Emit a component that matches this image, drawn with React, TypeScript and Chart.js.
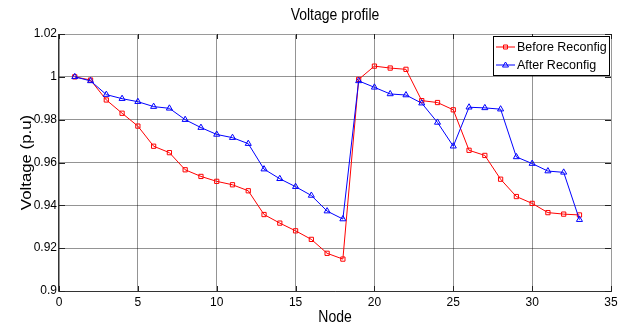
import React, { useEffect, useRef } from 'react';
import { Chart, registerables } from 'chart.js';

Chart.register(...registerables);

const nodes = [1, 2, 3, 4, 5, 6, 7, 8, 9, 10, 11, 12, 13, 14, 15, 16, 17, 18, 19, 20, 21, 22, 23, 24, 25, 26, 27, 28, 29, 30, 31, 32, 33];
const beforeReconfig = [1.0, 0.9985, 0.9892, 0.983, 0.977, 0.9676, 0.9646, 0.9566, 0.9535, 0.9512, 0.9496, 0.9468, 0.9357, 0.9317, 0.9281, 0.9241, 0.9176, 0.9149, 0.9988, 1.005, 1.0041, 1.0035, 0.9889, 0.988, 0.9846, 0.9657, 0.9633, 0.9522, 0.9441, 0.9409, 0.9366, 0.9359, 0.9355];
const afterReconfig = [1.0, 0.9981, 0.9917, 0.9898, 0.9884, 0.9861, 0.9853, 0.98, 0.9763, 0.9731, 0.9716, 0.9688, 0.9569, 0.9524, 0.9487, 0.9446, 0.9373, 0.9336, 0.9981, 0.9951, 0.992, 0.9915, 0.9877, 0.9787, 0.9676, 0.9858, 0.9855, 0.9849, 0.9626, 0.9595, 0.956, 0.9554, 0.9333];
const xTickValues = [0, 5, 10, 15, 20, 25, 30, 35];
const yTickValues = [0.9, 0.92, 0.94, 0.96, 0.98, 1.0, 1.02];
const chartTitle = 'Voltage profile';
const xTitle = 'Node';
const yTitle = 'Voltage (p.u)';
const seriesLabels = ['Before Reconfig', 'After Reconfig'];
const seriesColors = ['rgb(255,0,0)', 'rgb(0,0,255)'];

const FONT = '"Liberation Sans", Arial, sans-serif';

const decorPlugin = {
  id: 'matlabDecor',
  afterDraw(chart: any) {
    const { ctx, chartArea } = chart;
    const { left, right, top, bottom } = chartArea;
    const xs = chart.scales.x;
    const ys = chart.scales.y;
    ctx.save();

    // box border
    ctx.lineWidth = 1;
    ctx.strokeStyle = '#9a9a9a';
    ctx.beginPath();
    ctx.moveTo(left, top + 0.5);
    ctx.lineTo(right, top + 0.5);
    ctx.moveTo(right + 0.5, top);
    ctx.lineTo(right + 0.5, bottom);
    ctx.stroke();
    ctx.strokeStyle = '#333';
    ctx.beginPath();
    ctx.moveTo(left - 0.5, top);
    ctx.lineTo(left - 0.5, bottom + 0.5);
    ctx.lineTo(right + 1, bottom + 0.5);
    ctx.stroke();

    // inward ticks
    ctx.strokeStyle = '#222';
    ctx.beginPath();
    xTickValues.forEach((v) => {
      const px = Math.round(xs.getPixelForValue(v)) + 0.5;
      ctx.moveTo(px, bottom);
      ctx.lineTo(px, bottom - 5);
      ctx.moveTo(px, top);
      ctx.lineTo(px, top + 5);
    });
    yTickValues.forEach((v) => {
      const py = Math.round(ys.getPixelForValue(v)) + 0.5;
      ctx.moveTo(left, py);
      ctx.lineTo(left + 6, py);
      ctx.moveTo(right, py);
      ctx.lineTo(right - 6, py);
    });
    ctx.stroke();

    // title
    ctx.fillStyle = '#000';
    ctx.textAlign = 'center';
    ctx.textBaseline = 'alphabetic';
    ctx.font = `14px ${FONT}`;
    ctx.save();
    ctx.translate((left + right) / 2, top - 14);
    ctx.scale(1, 1.15);
    ctx.fillText(chartTitle, 0, 0);
    ctx.restore();

    // x title
    ctx.save();
    ctx.translate((left + right) / 2, bottom + 31);
    ctx.scale(1, 1.15);
    ctx.fillText(xTitle, 0, 0);
    ctx.restore();

    // y title
    ctx.save();
    ctx.translate(left - 32, (top + bottom) / 2);
    ctx.rotate(-Math.PI / 2);
    ctx.scale(1.2, 1);
    ctx.textBaseline = 'middle';
    ctx.fillText(yTitle, 0, 0);
    ctx.restore();

    // legend
    const bx = right - 117.5;
    const by = top + 2.5;
    const bw = 116;
    const bh = 39;
    ctx.fillStyle = '#fff';
    ctx.fillRect(bx, by, bw, bh);
    ctx.strokeStyle = '#000';
    ctx.lineWidth = 1;
    ctx.strokeRect(bx, by, bw, bh);
    ctx.font = `12.5px ${FONT}`;
    ctx.textAlign = 'left';
    ctx.textBaseline = 'middle';
    const rows = [by + 10.5, by + 28.5];
    rows.forEach((ry, i) => {
      ctx.strokeStyle = seriesColors[i];
      ctx.lineWidth = 1;
      ctx.beginPath();
      ctx.moveTo(bx + 2.5, ry);
      ctx.lineTo(bx + 21.5, ry);
      ctx.stroke();
      const mx = bx + 12;
      ctx.beginPath();
      if (i === 0) {
        ctx.rect(mx - 2, ry - 2, 4, 4);
      } else {
        ctx.moveTo(mx, ry - 3);
        ctx.lineTo(mx + 3, ry + 2);
        ctx.lineTo(mx - 3, ry + 2);
        ctx.closePath();
      }
      ctx.stroke();
      ctx.fillStyle = '#000';
      ctx.fillText(seriesLabels[i], bx + 23.5, ry + 0.5);
    });

    ctx.restore();
  },
};

export default function App() {
  const canvasRef = useRef<HTMLCanvasElement | null>(null);

  useEffect(() => {
    document.body.style.margin = '0';
    const canvas = canvasRef.current;
    if (!canvas) return;
    const chart = new Chart(canvas, {
      type: 'line',
      data: {
        datasets: [
          {
            label: seriesLabels[0],
            data: nodes.map((n, i) => ({ x: n, y: beforeReconfig[i] })),
            borderColor: seriesColors[0],
            backgroundColor: 'transparent',
            borderWidth: 1,
            pointStyle: 'rect',
            pointRadius: 3,
            pointBorderWidth: 1,
            pointBorderColor: seriesColors[0],
            pointBackgroundColor: 'transparent',
            tension: 0,
            order: 1,
          },
          {
            label: seriesLabels[1],
            data: nodes.map((n, i) => ({ x: n, y: afterReconfig[i] })),
            borderColor: seriesColors[1],
            backgroundColor: 'transparent',
            borderWidth: 1,
            pointStyle: 'triangle',
            pointRadius: 3.5,
            pointBorderWidth: 1,
            pointBorderColor: seriesColors[1],
            pointBackgroundColor: 'transparent',
            tension: 0,
            order: 0,
          },
        ],
      },
      options: {
        responsive: false,
        animation: false,
        devicePixelRatio: 1,
        layout: { padding: { top: 34, right: 18, left: 0, bottom: 0 } },
        plugins: {
          legend: { display: false },
          title: { display: false },
          tooltip: { enabled: false },
        },
        scales: {
          x: {
            type: 'linear',
            min: 0,
            max: 35,
            afterBuildTicks: (scale: any) => {
              scale.ticks = xTickValues.map((v) => ({ value: v }));
            },
            afterFit: (scale: any) => {
              scale.height = 35;
            },
            ticks: {
              color: '#000',
              font: { family: FONT, size: 12 },
              padding: 4,
              maxRotation: 0,
              callback: (v: any) => String(v),
            },
            grid: {
              color: 'rgba(0,0,0,0.42)',
              lineWidth: 1,
              drawTicks: false,
            },
            border: { display: false },
          },
          y: {
            type: 'linear',
            min: 0.9,
            max: 1.02,
            afterBuildTicks: (scale: any) => {
              scale.ticks = yTickValues.map((v) => ({ value: v }));
            },
            afterFit: (scale: any) => {
              scale.width = 59;
            },
            ticks: {
              color: '#000',
              font: { family: FONT, size: 12 },
              padding: 2,
              callback: (v: any) => String(+Number(v).toFixed(2)),
            },
            grid: {
              color: 'rgba(0,0,0,0.42)',
              lineWidth: 1,
              drawTicks: false,
            },
            border: { display: false },
          },
        },
      },
      plugins: [decorPlugin],
    });
    return () => chart.destroy();
  }, []);

  return (
    <div style={{ position: 'absolute', left: 0, top: 0, width: 629, height: 326, background: '#fff' }}>
      <canvas ref={canvasRef} width={629} height={326} />
    </div>
  );
}
